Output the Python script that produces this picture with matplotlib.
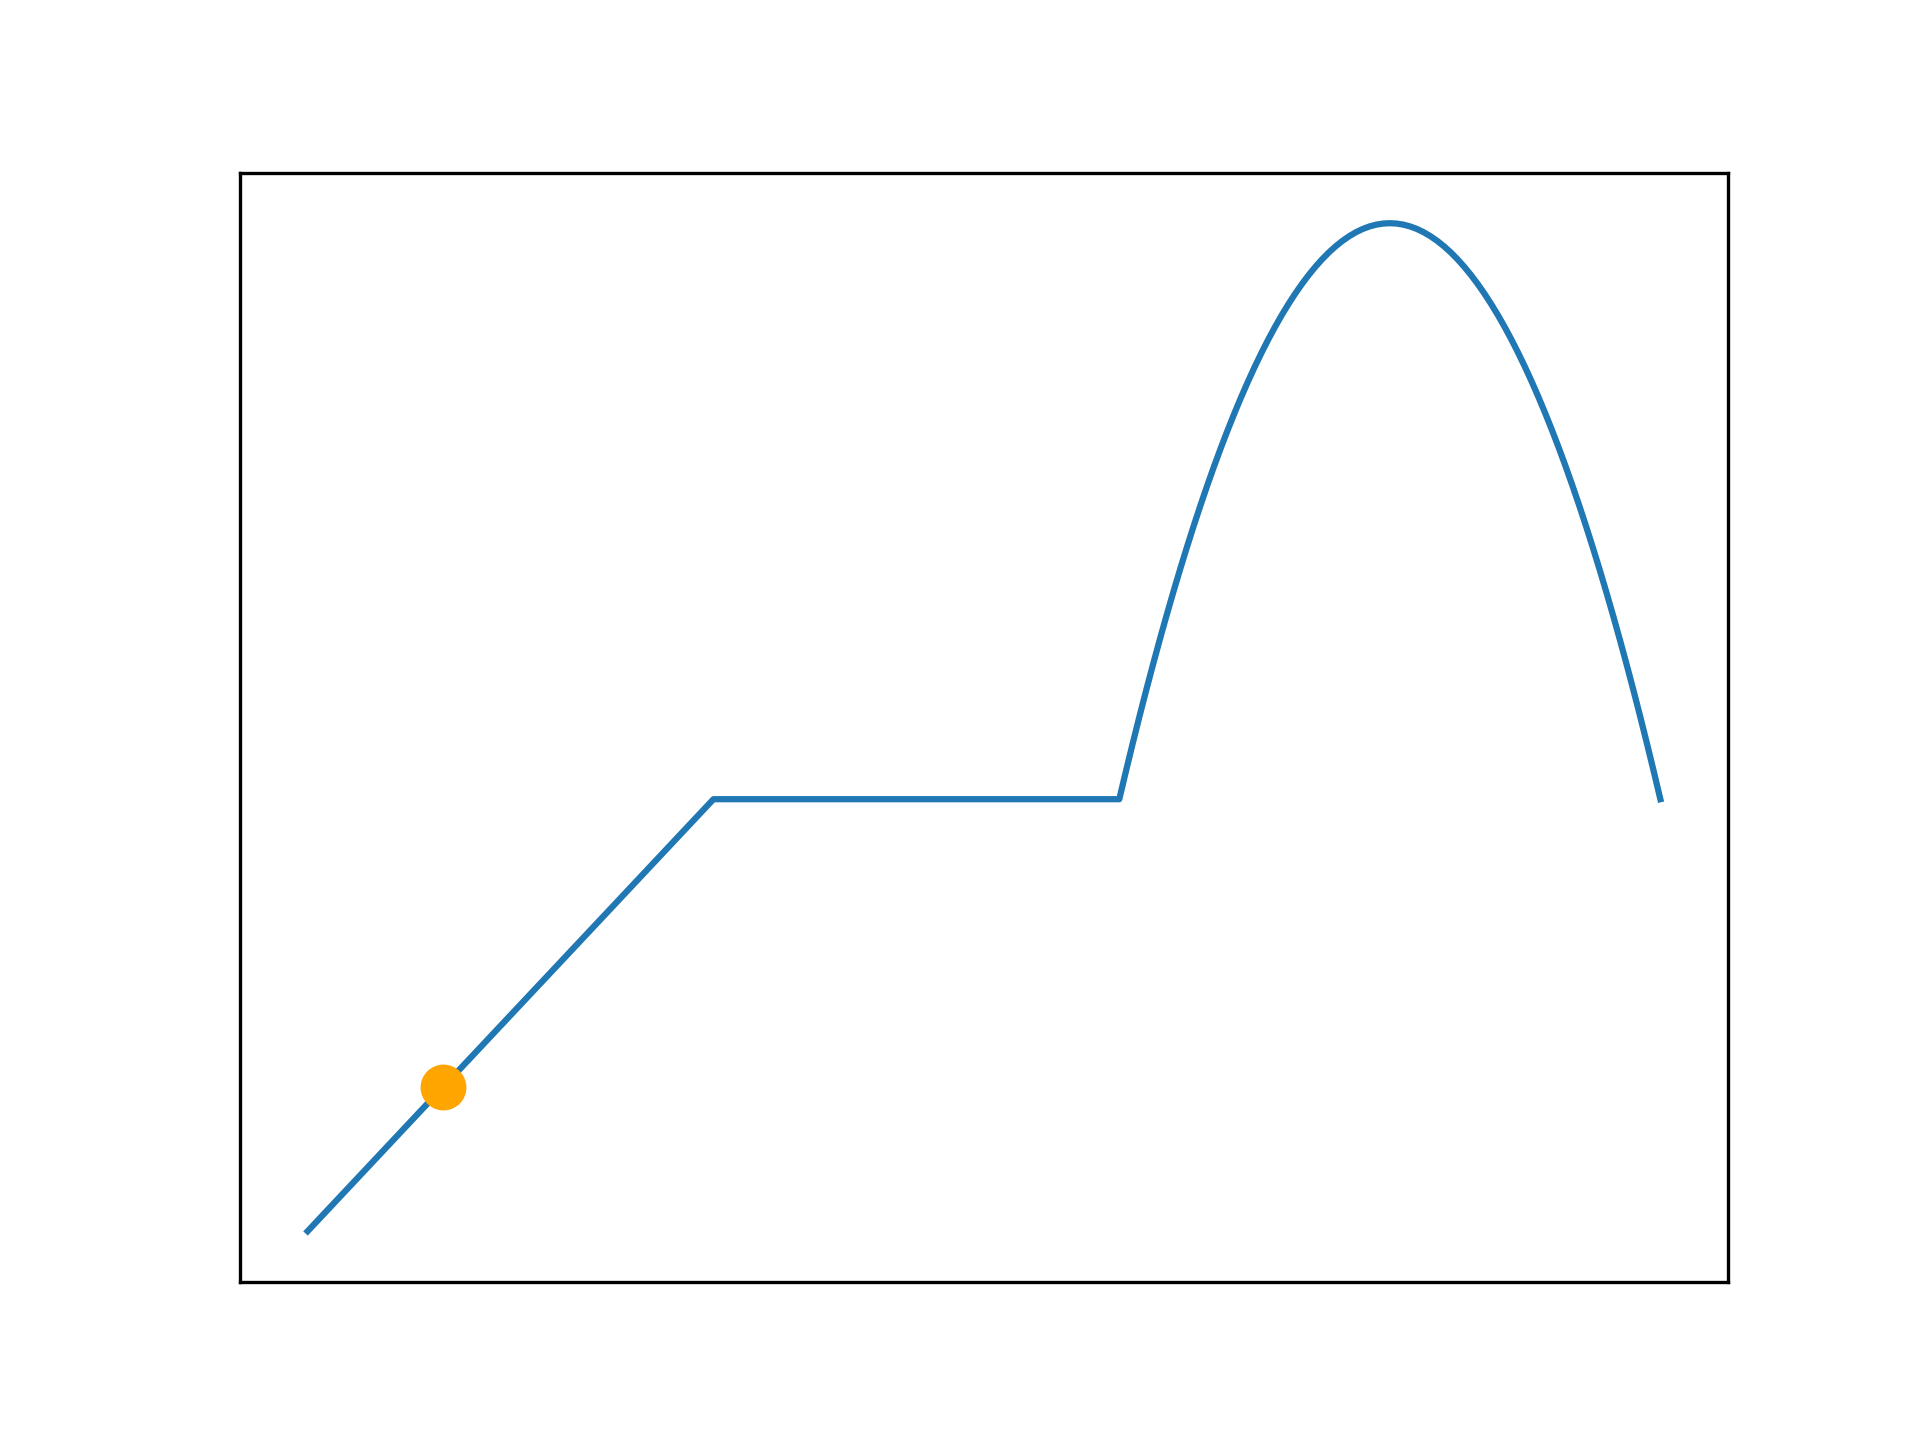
import matplotlib
matplotlib.use("Agg")
import matplotlib.pyplot as plt

# Rising segment and plateau
ramp_x = [0.0, 3.0, 6.0]
ramp_y = [0.0, 3.0, 3.0]

# Hump, rising half (x = 6.00 .. 8.00)
hump_up_x = [6.00, 6.05, 6.10, 6.15, 6.20, 6.25, 6.30, 6.35, 6.40, 6.45,
             6.50, 6.55, 6.60, 6.65, 6.70, 6.75, 6.80, 6.85, 6.90, 6.95,
             7.00, 7.05, 7.10, 7.15, 7.20, 7.25, 7.30, 7.35, 7.40, 7.45,
             7.50, 7.55, 7.60, 7.65, 7.70, 7.75, 7.80, 7.85, 7.90, 7.95, 8.00]
hump_up_y = [3.0000, 3.1975, 3.3900, 3.5775, 3.7600, 3.9375, 4.1100, 4.2775, 4.4400, 4.5975,
             4.7500, 4.8975, 5.0400, 5.1775, 5.3100, 5.4375, 5.5600, 5.6775, 5.7900, 5.8975,
             6.0000, 6.0975, 6.1900, 6.2775, 6.3600, 6.4375, 6.5100, 6.5775, 6.6400, 6.6975,
             6.7500, 6.7975, 6.8400, 6.8775, 6.9100, 6.9375, 6.9600, 6.9775, 6.9900, 6.9975, 7.0000]

# Hump, falling half (x = 8.05 .. 10.00)
hump_down_x = [8.05, 8.10, 8.15, 8.20, 8.25, 8.30, 8.35, 8.40, 8.45, 8.50,
               8.55, 8.60, 8.65, 8.70, 8.75, 8.80, 8.85, 8.90, 8.95, 9.00,
               9.05, 9.10, 9.15, 9.20, 9.25, 9.30, 9.35, 9.40, 9.45, 9.50,
               9.55, 9.60, 9.65, 9.70, 9.75, 9.80, 9.85, 9.90, 9.95, 10.00]
hump_down_y = [6.9975, 6.9900, 6.9775, 6.9600, 6.9375, 6.9100, 6.8775, 6.8400, 6.7975, 6.7500,
               6.6975, 6.6400, 6.5775, 6.5100, 6.4375, 6.3600, 6.2775, 6.1900, 6.0975, 6.0000,
               5.8975, 5.7900, 5.6775, 5.5600, 5.4375, 5.3100, 5.1775, 5.0400, 4.8975, 4.7500,
               4.5975, 4.4400, 4.2775, 4.1100, 3.9375, 3.7600, 3.5775, 3.3900, 3.1975, 3.0000]

# Highlighted point
point_x = [1.0]
point_y = [1.0]

x_values = ramp_x + hump_up_x[1:] + hump_down_x
y_values = ramp_y + hump_up_y[1:] + hump_down_y

fig, ax = plt.subplots(figsize=(6.4, 4.8), dpi=300)
ax.plot(x_values, y_values, color="#1f77b4", linewidth=1.5)
ax.plot(point_x, point_y, marker="o", markersize=10, color="orange", linestyle="none")
ax.set_xticks([])
ax.set_yticks([])
fig.savefig("out.png", dpi=300)
